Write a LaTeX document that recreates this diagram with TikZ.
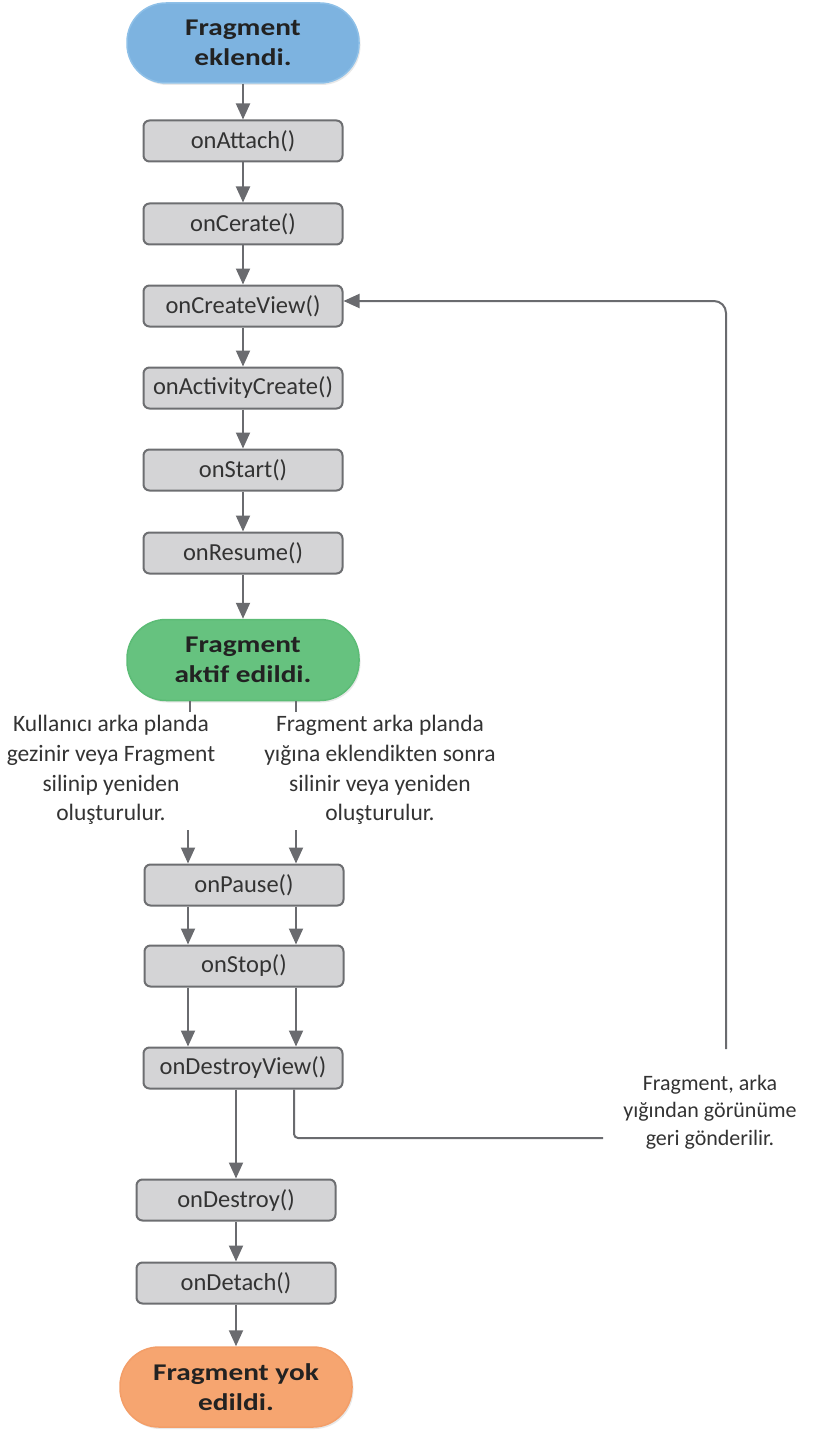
\documentclass[tikz,border=0pt]{standalone}
\usepackage{fontspec}
\usepackage{graphicx}
\setmainfont{Carlito}
\usetikzlibrary{arrows.meta,shadows}
\definecolor{linec}{HTML}{6A6B6F}
\definecolor{boxedge}{HTML}{6D6E71}
\definecolor{boxfill}{HTML}{D4D4D6}
\definecolor{textc}{HTML}{333333}
\definecolor{boldc}{HTML}{222222}
\definecolor{bluef}{HTML}{7DB3E0}
\definecolor{bluee}{HTML}{8EC0E8}
\definecolor{greenf}{HTML}{66C27F}
\definecolor{greene}{HTML}{5CBC76}
\definecolor{orangef}{HTML}{F6A570}
\definecolor{orangee}{HTML}{F39E68}
\newcommand{\wb}[1]{\scalebox{1.22}[1]{#1}}
\begin{document}
\begin{tikzpicture}[x=1pt,y=-1pt,
 box/.style={draw=boxedge, line width=2pt, fill=boxfill, rounded corners=6pt,
   minimum width=199pt, minimum height=41pt, inner sep=0pt,
   font=\fontsize{24.5}{28}\selectfont, text=textc},
 pill/.style={rounded corners=39pt, minimum width=232pt, minimum height=80pt,
   line width=1.5pt, align=center, inner sep=0pt,
   font=\fontsize{24}{30}\selectfont\bfseries, text=boldc,
   drop shadow={opacity=0.18, shadow xshift=1.5pt, shadow yshift=-2pt}},
 arr/.style={draw=linec, line width=2pt, -{Triangle[length=16pt,width=14pt]}},
 ln/.style={draw=linec, line width=2pt},
 lbl/.style={align=center, font=\fontsize{23.5}{29.7}\selectfont, text=textc, inner sep=0pt}]
\useasboundingbox (0,0) rectangle (814,1431);

\node[pill, fill=bluef, draw=bluee] (p1) at (243,43) {\wb{Fragment}\\\wb{eklendi.}};
\node[box] (attach) at (243,141) {onAttach()};
\node[box] (create) at (243,224) {onCerate()};
\node[box] (cview) at (243,306) {onCreateView()};
\node[box] (actc) at (243,388) {onActivityCreate()};
\node[box] (start) at (243,470) {onStart()};
\node[box] (resume) at (243,553) {onResume()};
\node[pill, fill=greenf, draw=greene, minimum height=81pt] (p2) at (243,660) {\wb{Fragment}\\\wb{aktif edildi.}};

\node[lbl] (ll) at (111,770) {Kullanıcı arka planda\\gezinir veya Fragment\\silinip yeniden\\oluşturulur.};
\node[lbl] (lr) at (380,770) {Fragment arka planda\\yığına eklendikten sonra\\silinir veya yeniden\\oluşturulur.};

\node[box] (pause) at (244,885) {onPause()};
\node[box] (stop) at (244,966) {onStop()};
\node[box] (dview) at (243,1068) {onDestroyView()};
\node[box] (destroy) at (236,1200) {onDestroy()};
\node[box] (detach) at (236,1283) {onDetach()};
\node[pill, fill=orangef, draw=orangee] (p3) at (236,1387) {\wb{Fragment yok}\\\wb{edildi.}};

\node[lbl, font=\fontsize{22}{27.5}\selectfont] (lb) at (710,1112) {Fragment, arka\\yığından görünüme\\geri gönderilir.};

\draw[arr] (p1) -- (attach);
\draw[arr] (attach) -- (create);
\draw[arr] (create) -- (cview);
\draw[arr] (cview) -- (actc);
\draw[arr] (actc) -- (start);
\draw[arr] (start) -- (resume);
\draw[arr] (resume) -- (p2);

\coordinate (t1) at (190,712);
\coordinate (t2) at (296,712);
\draw[ln] (t1 |- p2.south) -- (t1);
\draw[ln] (t2 |- p2.south) -- (t2);

\coordinate (a1) at (188,830);
\coordinate (a2) at (296,830);
\draw[arr] (a1) -- (a1 |- pause.north);
\draw[arr] (a2) -- (a2 |- pause.north);
\draw[arr] (pause.south -| a1) -- (stop.north -| a1);
\draw[arr] (pause.south -| a2) -- (stop.north -| a2);
\draw[arr] (stop.south -| a1) -- (dview.north -| a1);
\draw[arr] (stop.south -| a2) -- (dview.north -| a2);

\draw[arr] (dview.south -| destroy) -- (destroy.north);
\draw[arr] (destroy) -- (detach);
\draw[arr] (detach) -- (p3);

\coordinate (lx) at (294,1138);
\coordinate (hend) at (603,1138);
\draw[ln, rounded corners=4pt] (lx |- dview.south) -- (lx) -- (hend);
\coordinate (ve) at (726,1049);
\draw[arr, rounded corners=12pt] (ve) |- ([yshift=5pt]cview.east);
\end{tikzpicture}
\end{document}
